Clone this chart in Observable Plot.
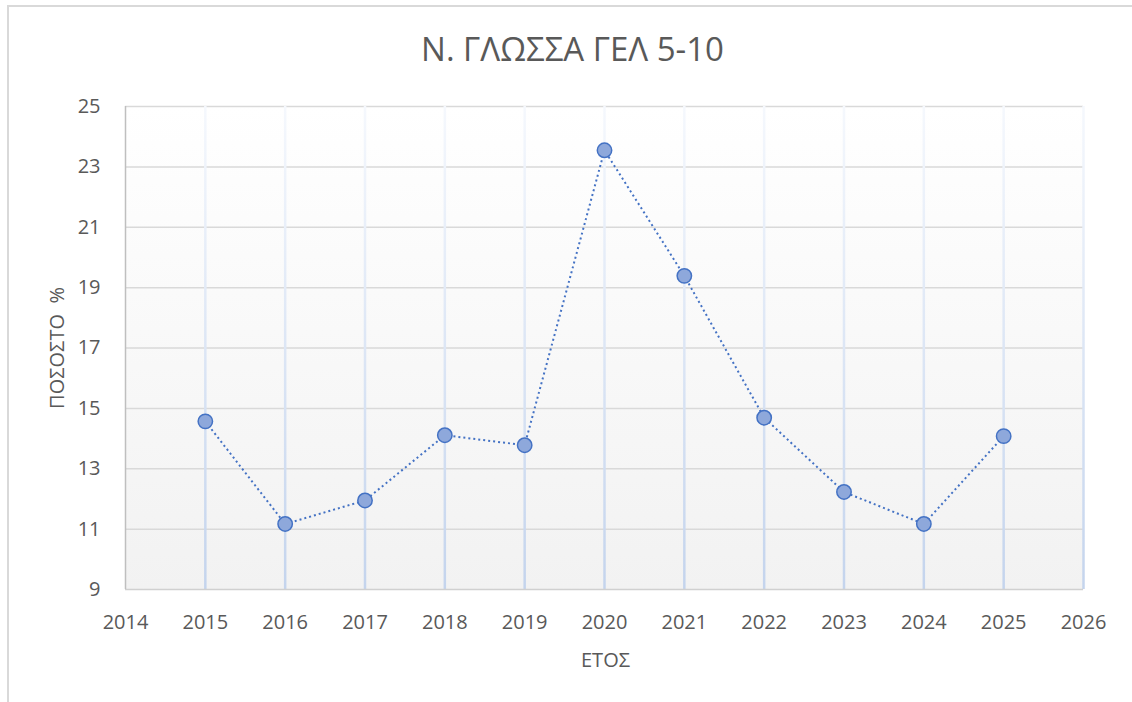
<!DOCTYPE html>
<html>
<head>
<meta charset="utf-8">
<script src="https://cdn.jsdelivr.net/npm/d3@7"></script>
<script src="https://cdn.jsdelivr.net/npm/@observablehq/plot@0.6"></script>
<style>
  html, body { margin: 0; padding: 0; background: #fff; overflow: hidden; }
  #wrap { position: relative; width: 1132px; height: 702px; overflow: hidden; }
  #border { position: absolute; left: 7px; top: 5px; width: 1140px; height: 720px; border: 2px solid #d9d9d9; box-sizing: border-box; }
  #chart { position: absolute; left: 0; top: 0; }
</style>
</head>
<body>
<div id="wrap"><div id="border"></div><div id="chart"></div></div>
<script>
const title = "Ν. ΓΛΩΣΣΑ ΓΕΛ 5-10";
const xTitle = "ΕΤΟΣ";
const yTitle = "ΠΟΣΟΣΤΟ  %";
const years = [2015, 2016, 2017, 2018, 2019, 2020, 2021, 2022, 2023, 2024, 2025];
const values = [14.57, 11.17, 11.95, 14.11, 13.78, 23.55, 19.39, 14.69, 12.23, 11.17, 14.08];
const xTicks = [2014, 2015, 2016, 2017, 2018, 2019, 2020, 2021, 2022, 2023, 2024, 2025, 2026];
const yTicks = [9, 11, 13, 15, 17, 19, 21, 23, 25];

const data = years.map((year, i) => ({year, value: values[i]}));
const font = "'Open Sans', 'Noto Sans', sans-serif";
const textColor = "#595959";

const chart = Plot.plot({
  width: 1132,
  height: 702,
  marginLeft: 125,
  marginRight: 49,
  marginTop: 106,
  marginBottom: 113,
  style: {fontFamily: font, fontSize: "20px", color: textColor, background: "transparent", overflow: "visible"},
  x: {domain: [xTicks[0], xTicks[xTicks.length - 1]]},
  y: {domain: [yTicks[0], yTicks[yTicks.length - 1]]},
  marks: [
    Plot.frame({fill: "url(#bgGrad)", stroke: null}),
    Plot.ruleY(yTicks.slice(1), {stroke: "#d9d9d9", strokeWidth: 1.5}),
    Plot.ruleX(xTicks.slice(1), {stroke: "url(#vGrad)", strokeWidth: 2.5}),
    Plot.ruleY(yTicks.slice(0, 1), {stroke: "#d0d0d0", strokeWidth: 1.5}),
    Plot.ruleX(xTicks.slice(0, 1), {stroke: "#bfbfbf", strokeWidth: 1.5}),
    Plot.axisX({ticks: xTicks, tickSize: 0, tickPadding: 25, tickFormat: d => String(d), label: null, fill: textColor, fontSize: 20}),
    Plot.axisY({ticks: yTicks, tickSize: 0, tickPadding: 25, label: null, fill: textColor, fontSize: 20}),
    Plot.line(data, {x: "year", y: "value", stroke: "#4472c4", strokeWidth: 2, strokeDasharray: "2 3", strokeLinecap: "butt"}),
    Plot.dot(data, {x: "year", y: "value", r: 7.2, fill: "#8ea8db", stroke: "#4472c4", strokeWidth: 1.5}),
    Plot.text([title], {frameAnchor: "top", textAnchor: "middle", dx: -32, dy: -56, lineAnchor: "middle", fontSize: 33, fill: textColor, fontFamily: font}),
    Plot.text([xTitle], {frameAnchor: "bottom", textAnchor: "middle", dx: 1, dy: 71, lineAnchor: "middle", fontSize: 20, fill: textColor, fontFamily: font}),
    Plot.text([yTitle], {frameAnchor: "left", textAnchor: "middle", dx: -68, rotate: -90, lineAnchor: "middle", fontSize: 20, fill: textColor, fontFamily: font})
  ]
});

const yScale = chart.scale("y");
const gridTop = yScale.apply(yTicks[yTicks.length - 1]);
const gridBottom = yScale.apply(yTicks[0]);
const defs = d3.select(chart).insert("defs", ":first-child");
const bg = defs.append("linearGradient").attr("id", "bgGrad").attr("x1", 0).attr("y1", 0).attr("x2", 0).attr("y2", 1);
bg.append("stop").attr("offset", "0%").attr("stop-color", "#ffffff");
bg.append("stop").attr("offset", "100%").attr("stop-color", "#f2f2f2");
const vg = defs.append("linearGradient").attr("id", "vGrad").attr("gradientUnits", "userSpaceOnUse")
  .attr("x1", 0).attr("y1", gridTop).attr("x2", 0).attr("y2", gridBottom);
vg.append("stop").attr("offset", "0%").attr("stop-color", "#f5f8fd");
vg.append("stop").attr("offset", "100%").attr("stop-color", "#c4d4ed");

document.getElementById("chart").appendChild(chart);
</script>
</body>
</html>
